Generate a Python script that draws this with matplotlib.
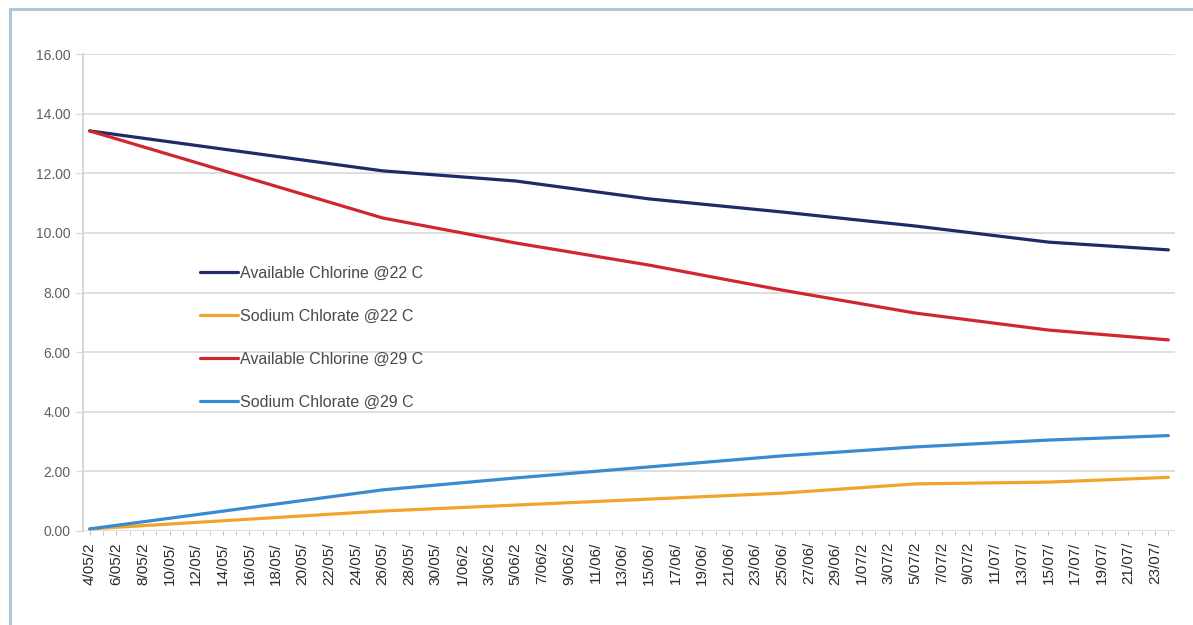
import pandas as pd
import numpy as np
import matplotlib
matplotlib.use("Agg")
import matplotlib.pyplot as plt
from matplotlib.patches import Rectangle

# -------------------------------------------------
# Datos
# -------------------------------------------------
fechas = pd.date_range("2010-05-04", "2010-07-24", freq="D")
etiquetas = [f"{f.day}/{f.month:02d}/{f.year}"[:6] for f in fechas]

# Días (índice de categoría) en que hay medición
dias_medicion = [0, 22, 32, 42, 52, 62, 72, 81]

cloro_22 = [13.42, 12.08, 11.74, 11.14, 10.70, 10.23, 9.69, 9.43]
clorato_22 = [0.07, 0.67, 0.87, 1.07, 1.27, 1.58, 1.64, 1.80]
cloro_29 = [13.42, 10.50, 9.66, 8.92, 8.08, 7.31, 6.74, 6.41]
clorato_29 = [0.07, 1.38, 1.78, 2.15, 2.52, 2.82, 3.05, 3.20]

series = [
    ("Available Chlorine @22 C", cloro_22, "#1f2a66"),
    ("Sodium Chlorate @22 C", clorato_22, "#f2a42a"),
    ("Available Chlorine @29 C", cloro_29, "#d1262e"),
    ("Sodium Chlorate @29 C", clorato_29, "#3a8ad0"),
]

plt.rcParams["font.family"] = ["Liberation Sans", "DejaVu Sans"]

fig = plt.figure(figsize=(11.93, 6.25), dpi=100)
fig.patch.set_facecolor("white")

# Borde exterior del área del gráfico
fig.patches.append(Rectangle((10 / 1193, -0.05), 1.2, 1 - 9 / 625 + 0.05,
                             transform=fig.transFigure, fill=False,
                             edgecolor="#b0c4d8", linewidth=2.2))

ax = fig.add_axes([83 / 1193, 1 - 531 / 625, (1175 - 83) / 1193, (531 - 54) / 625])

for nombre, valores, color in series:
    ax.plot(dias_medicion, valores, color=color, linewidth=2.3, label=nombre,
            solid_joinstyle="round", solid_capstyle="round")

ax.set_xlim(-0.5, len(fechas) - 0.5)
ax.set_ylim(0, 16)
ax.set_yticks(np.arange(0, 17, 2))
ax.set_yticklabels([f"{v:.2f}" for v in np.arange(0, 17, 2)], color="#606060", fontsize=10)

ax.set_xticks(range(0, len(fechas), 2))
ax.set_xticklabels(etiquetas[::2], rotation=90, fontsize=11, color="#2a2a2a")
ax.set_xticks(range(len(fechas)), minor=True)

ax.grid(axis="y", color="#d9d9d9", linewidth=1.2)
ax.set_axisbelow(True)
for lado in ["top", "right", "bottom"]:
    ax.spines[lado].set_visible(False)
ax.spines["left"].set_color("#cfcfcf")
ax.spines["left"].set_linewidth(1.2)
ax.tick_params(axis="y", length=5, color="#d9d9d9", pad=4)
ax.tick_params(axis="x", which="both", length=3, color="#bbbbbb", pad=5)

ax.legend(loc="upper left", bbox_to_anchor=(200 / 1193, 1 - 266 / 625),
          bbox_transform=fig.transFigure, frameon=False, fontsize=11.5,
          handlelength=2.4, handletextpad=0.1, labelspacing=1.75,
          borderpad=0, borderaxespad=0, labelcolor="#4a4a4a")

fig.savefig("out.png", dpi=100, facecolor="white")
